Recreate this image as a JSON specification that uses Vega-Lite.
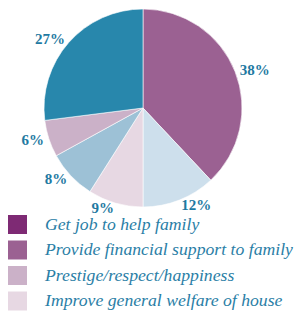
{
  "$schema": "https://vega.github.io/schema/vega-lite/v6.json",
  "width": 286,
  "height": 216,
  "autosize": "none",
  "padding": {"left": 0, "top": 0, "right": 10, "bottom": 96},
  "background": "white",
  "data": {
    "values": [
      {"reason": "Provide financial support to family", "share": 0.38, "rank": 1},
      {"reason": "Improve own life", "share": 0.12, "rank": 2},
      {"reason": "Improve general welfare of house", "share": 0.09, "rank": 3},
      {"reason": "Family decision", "share": 0.08, "rank": 4},
      {"reason": "Prestige/respect/happiness", "share": 0.06, "rank": 5},
      {"reason": "Other", "share": 0.27, "rank": 6}
    ]
  },
  "encoding": {
    "theta": {"field": "share", "type": "quantitative", "stack": true},
    "order": {"field": "rank", "type": "quantitative"}
  },
  "layer": [
    {
      "mark": {"type": "arc", "outerRadius": 99, "stroke": "white", "strokeWidth": 0.6},
      "encoding": {
        "color": {
          "field": "reason",
          "type": "nominal",
          "scale": {
            "domain": ["Get job to help family", "Provide financial support to family", "Prestige/respect/happiness", "Improve general welfare of house", "Improve own life", "Family decision", "Other"],
            "range": ["#7e2a74", "#9b6192", "#cbb1c8", "#e7d8e3", "#cddfec", "#9dc1d6", "#2887ac"]
          },
          "legend": {
            "title": null,
            "orient": "none",
            "legendX": 8,
            "legendY": 215,
            "padding": 0,
            "symbolType": "square",
            "symbolSize": 361,
            "symbolStrokeWidth": 0,
            "rowPadding": 6.5,
            "labelOffset": 18,
            "labelFont": "Liberation Serif",
            "labelFontStyle": "italic",
            "labelFontSize": 17.7,
            "labelColor": "#2a7ea6",
            "labelLimit": 400,
            "values": ["Get job to help family", "Provide financial support to family", "Prestige/respect/happiness", "Improve general welfare of house", "Improve own life", "Family decision", "Other"]
          }
        }
      }
    },
    {
      "mark": {"type": "text", "radius": 104, "align": "left", "font": "Liberation Serif", "fontWeight": "bold", "fontSize": 15, "fill": "#1f7aa2"},
      "encoding": {
        "text": {"field": "share", "type": "quantitative", "format": ".0%"},
        "opacity": {"condition": {"test": "datum.rank <= 2", "value": 1}, "value": 0}
      }
    },
    {
      "mark": {"type": "text", "radius": 104, "align": "right", "font": "Liberation Serif", "fontWeight": "bold", "fontSize": 15, "fill": "#1f7aa2"},
      "encoding": {
        "text": {"field": "share", "type": "quantitative", "format": ".0%"},
        "opacity": {"condition": {"test": "datum.rank <= 2", "value": 0}, "value": 1}
      }
    }
  ],
  "config": {"view": {"stroke": null}}
}
